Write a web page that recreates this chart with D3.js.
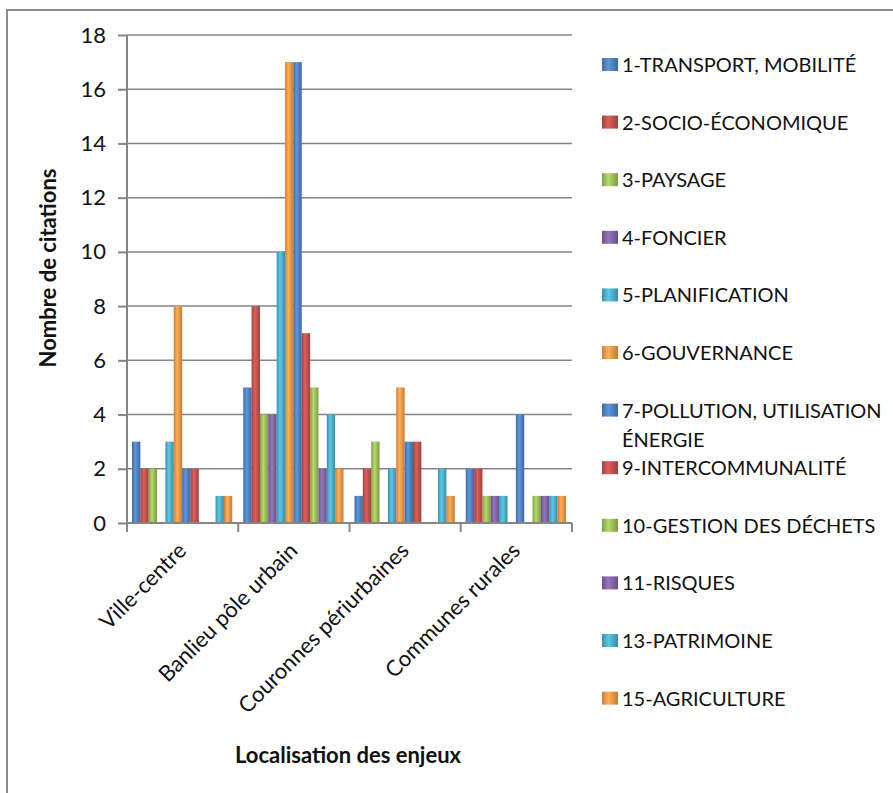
<html>
<head>
<script src="https://d3js.org/d3.v7.min.js"></script>
<style>
body { margin: 0; background: #fff; }
text { font-family: Lato, "Open Sans", sans-serif; fill: #111; }
.grid line { stroke: #858585; stroke-width: 1.5; }
.axis path, .axis line { stroke: #858585; stroke-width: 2; }
</style>
</head>
<body>
<div id="plot"></div>
<script>

var width = 893;
var height = 793;

// Categories on the x axis
var categories = ["Ville-centre", "Banlieu pôle urbain", "Couronnes périurbaines", "Communes rurales"];

// Series (enjeux), in legend order
var seriesNames = ["1-TRANSPORT, MOBILITÉ", "2-SOCIO-ÉCONOMIQUE", "3-PAYSAGE", "4-FONCIER",
  "5-PLANIFICATION", "6-GOUVERNANCE", "7-POLLUTION, UTILISATION ÉNERGIE", "9-INTERCOMMUNALITÉ",
  "10-GESTION DES DÉCHETS", "11-RISQUES", "13-PATRIMOINE", "15-AGRICULTURE"];

// Citations per series, one array per category
var villeCentre = [3, 2, 2, 0, 3, 8, 2, 2, 0, 0, 1, 1];
var banlieue    = [5, 8, 4, 4, 10, 17, 17, 7, 5, 2, 4, 2];
var couronnes   = [1, 2, 3, 0, 2, 5, 3, 3, 0, 0, 2, 1];
var communes    = [2, 2, 1, 1, 1, 0, 4, 0, 1, 1, 1, 1];

var yTicks = [0, 2, 4, 6, 8, 10, 12, 14, 16, 18];

var colors = ["#4f81bd", "#c0504d", "#9bbb59", "#8064a2", "#4bacc6", "#f79646",
  "#4f81bd", "#c0504d", "#9bbb59", "#8064a2", "#4bacc6", "#f79646"];

var values = [villeCentre, banlieue, couronnes, communes];

var svg = d3.select("#plot").append("svg")
  .attr("width", width).attr("height", height);

// outer frame of the chart (only top and left visible)
svg.append("rect")
  .attr("x", 7).attr("y", 10).attr("width", width + 20).attr("height", height + 20)
  .style("fill", "#fff").style("stroke", "#8c8c8c").style("stroke-width", 2);

var plotLeft = 127, plotRight = 572, plotTop = 35, plotBottom = 523;

var xScale = d3.scaleBand().domain(categories).range([plotLeft, plotRight]);
var xInner = d3.scaleBand().domain(d3.range(seriesNames.length))
  .range([5, xScale.bandwidth() - 6]);
var yScale = d3.scaleLinear().domain([0, 18]).range([plotBottom, plotTop]);

// gradients for the bars, lighter in the middle
var defs = svg.append("defs");
colors.forEach(function (c, i) {
  var g = defs.append("linearGradient").attr("id", "grad" + i)
    .attr("x1", "0%").attr("x2", "100%").attr("y1", "0%").attr("y2", "0%");
  var base = d3.color(c);
  g.append("stop").attr("offset", "0%").attr("stop-color", base.darker(0.5));
  g.append("stop").attr("offset", "40%").attr("stop-color", base.brighter(0.45));
  g.append("stop").attr("offset", "100%").attr("stop-color", base.darker(0.6));
});

// gridlines
svg.append("g").attr("class", "grid")
  .selectAll("line").data(yTicks.slice(1)).enter().append("line")
  .attr("x1", plotLeft).attr("x2", plotRight)
  .attr("y1", function (d) { return yScale(d); })
  .attr("y2", function (d) { return yScale(d); });

// bars
categories.forEach(function (cat, ci) {
  svg.append("g").selectAll("rect")
    .data(values[ci]).enter().append("rect")
    .attr("x", function (d, i) { return xScale(cat) + xInner(i); })
    .attr("width", xInner.bandwidth())
    .attr("y", function (d) { return yScale(d); })
    .attr("height", function (d) { return yScale(0) - yScale(d); })
    .style("fill", function (d, i) { return "url(#grad" + i + ")"; });
});

// y axis
var yAxis = d3.axisLeft(yScale).tickValues(yTicks).tickSize(9).tickPadding(12);
svg.append("g").attr("class", "axis").attr("transform", "translate(" + plotLeft + ",0)")
  .call(yAxis)
  .call(function (g) { g.select(".domain").attr("d", "M0," + plotTop + "V" + plotBottom); })
  .selectAll("text").style("font-size", "22px").style("font-family", "Lato, sans-serif");

// x axis, ticks between categories
var xBounds = categories.map(function (c) { return xScale(c); }).concat([plotRight]);
var xg = svg.append("g").attr("class", "axis");
xg.append("line").attr("x1", plotLeft).attr("x2", plotRight).attr("y1", plotBottom).attr("y2", plotBottom);
xg.selectAll("line.tick").data(xBounds).enter().append("line").attr("class", "tick")
  .attr("x1", function (d) { return d; }).attr("x2", function (d) { return d; })
  .attr("y1", plotBottom).attr("y2", plotBottom + 9);

svg.append("g").selectAll("text").data(categories).enter().append("text")
  .attr("transform", function (d) {
    return "translate(" + (xScale(d) + xScale.bandwidth() / 2 + 5) + "," + (plotBottom + 29) + ") rotate(-45)";
  })
  .attr("text-anchor", "end")
  .style("font-size", "22px")
  .text(function (d) { return d; });

// axis titles
svg.append("text")
  .attr("transform", "translate(56,268) rotate(-90)")
  .attr("text-anchor", "middle")
  .style("font-size", "22px").style("font-weight", "bold")
  .text("Nombre de citations");

svg.append("text")
  .attr("x", 348).attr("y", 763)
  .attr("text-anchor", "middle")
  .style("font-size", "22px").style("font-weight", "bold")
  .text("Localisation des enjeux");

// legend
var legend = svg.append("g").selectAll("g").data(seriesNames).enter().append("g")
  .attr("transform", function (d, i) { return "translate(602," + (65 + i * 57.6) + ")"; });

legend.append("rect")
  .attr("x", 0).attr("y", -7).attr("width", 16).attr("height", 13)
  .style("fill", function (d, i) { return "url(#grad" + i + ")"; });

legend.append("text")
  .attr("x", 20).attr("y", 7)
  .style("font-size", "20px")
  .each(function (d) {
    var t = d3.select(this);
    if (d.indexOf("UTILISATION") > 0) {
      t.append("tspan").attr("x", 20).text("7-POLLUTION, UTILISATION");
      t.append("tspan").attr("x", 20).attr("dy", 29).text("ÉNERGIE");
    } else {
      t.text(d);
    }
  });

</script>
</body>
</html>
